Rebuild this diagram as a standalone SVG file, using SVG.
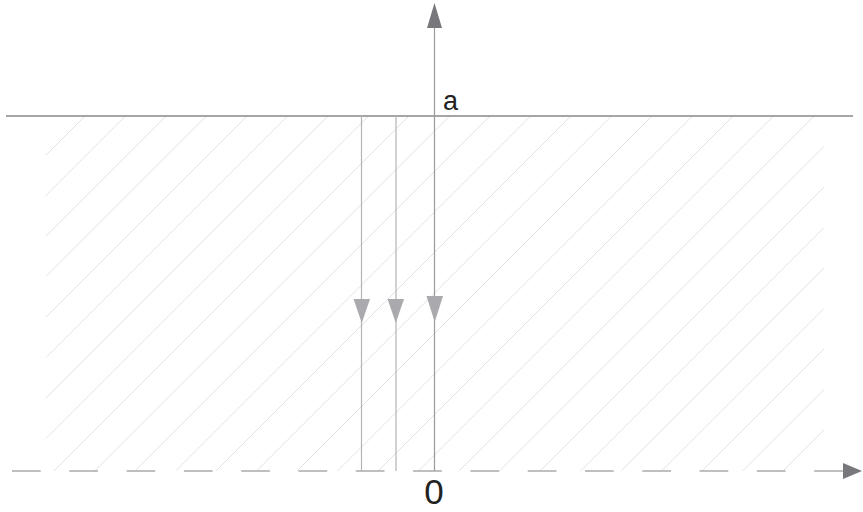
<svg xmlns="http://www.w3.org/2000/svg" width="863" height="512" viewBox="0 0 863 512">
<style>
.hatch{stroke:#e2e2e2;stroke-width:1;fill:none}
.ground{stroke:#888888;stroke-width:1.6;fill:none}
.axis{stroke:#9a9a9a;stroke-width:1.2;fill:none}
.ray{stroke:#b4b4b4;stroke-width:1.2;fill:none}
.dash{stroke:#ababab;stroke-width:1.6;stroke-dasharray:28.7 28.6;fill:none}
.lbl{font-family:"Liberation Sans",Arial,sans-serif;fill:#222}
</style>
<g id="hatching">
<path class="hatch" d="M85,116L46,155M125.5,116L46,195.5M166,116L46,236M206.5,116L46,276.5M247,116L46,317M287.5,116L46,357.5M328,116L46,398M368.5,116L46,438.5M409,116L54,471M449.5,116L94.5,471M490,116L135,471M530.5,116L175.5,471M571,116L216,471M611.5,116L256.5,471M652,116L297,471M692.5,116L337.5,471M733,116L378,471M773.5,116L418.5,471M814,116L459,471M824,146.5L499.5,471M824,187L540,471M824,227.5L580.5,471M824,268L621,471M824,308.5L661.5,471M824,349L702,471M824,389.5L742.5,471M824,430L783,471M824,470.5L823.5,471"/>
</g>
<g id="surface">
<line class="ground" x1="6" y1="116" x2="853" y2="116"/>
</g>
<g id="connectors">
<line class="dash" x1="12" y1="471" x2="843" y2="471"/>
<path d="M843,463 L862,471 L843,479 Z" fill="#77777c"/>
<line class="axis" x1="434.5" y1="471" x2="434.5" y2="28"/>
<path d="M427,28 L434.5,3 L442,28 Z" fill="#77777c"/>
<line class="ray" x1="361.5" y1="116" x2="361.5" y2="471"/>
<line class="ray" x1="396" y1="116" x2="396" y2="471"/>
<path d="M353.5,299 L370,299 L361.8,323 Z" fill="#a9a9ae"/>
<path d="M387.5,299 L404,299 L395.8,323 Z" fill="#a9a9ae"/>
<path d="M426.5,296 L443,296 L434.7,322 Z" fill="#a9a9ae"/>
</g>
<g id="labels">
<text class="lbl" x="443" y="109.5" font-size="27">a</text>
<text class="lbl" x="434" y="504" font-size="35" text-anchor="middle">0</text>
</g>
</svg>
